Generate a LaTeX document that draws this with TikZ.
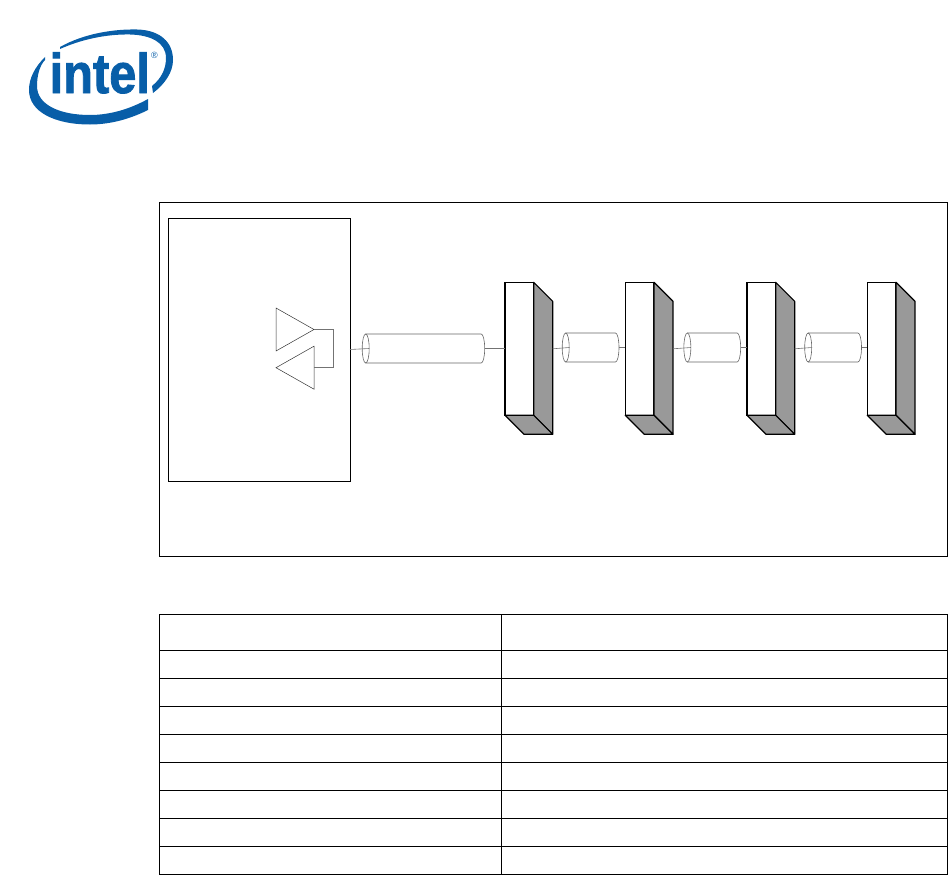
\documentclass[tikz,border=0pt]{standalone}
\usepackage{fontspec}
\setmainfont{Liberation Sans}
\newfontfamily\logofont[BoldFeatures={FakeBold=1.6}]{Liberation Sans}
\usepackage{xcolor}
\usepackage{tikz}
\usetikzlibrary{positioning, shapes.geometric, calc}
\definecolor{logoblue}{RGB}{8,94,168}
\definecolor{sidegray}{RGB}{153,153,153}

\begin{document}
\begin{tikzpicture}[
    x=1pt,
    y=-1pt,
    slab/.style={
        rectangle,
        draw,
        line width=1.2pt,
        fill=white,
        minimum width=28.7pt,
        minimum height=133pt,
        inner sep=0pt,
        outer sep=0pt
    },
    cable/.style={
        rectangle,
        minimum height=29pt,
        inner sep=0pt,
        outer sep=0pt
    },
    cableline/.style={
        draw=black!60,
        line width=0.6pt
    },
    amp/.style={
        isosceles triangle,
        isosceles triangle stretches,
        draw=black!80,
        line width=0.5pt,
        minimum width=43pt,
        minimum height=38pt,
        inner sep=0pt,
        outer sep=0pt,
        anchor=apex
    },
    wire/.style={
        draw=black!55,
        line width=0.6pt
    },
    frame/.style={
        rectangle,
        draw,
        line width=0.9pt,
        inner sep=0pt,
        outer sep=0pt
    }
]
\useasboundingbox (0,0) rectangle (948,875);

% Logo
\fill[logoblue] (60,47) .. controls (85,33) and (115,29) .. (137,29.5)
    .. controls (160,30) and (173,42) .. (173,60)
    .. controls (173,72) and (165,84) .. (153,93) -- (152,86)
    .. controls (162,78) and (166,68) .. (166,58)
    .. controls (166,42) and (150,35) .. (130,34.5)
    .. controls (105,34) and (80,40) .. (60,49) -- cycle;
\fill[logoblue] (45,57) .. controls (35,67) and (29,78) .. (29,90)
    .. controls (29,112) and (55,124.5) .. (90,124.5)
    .. controls (112,124.5) and (132,118) .. (148,110) -- (148,99)
    .. controls (130,109) and (110,115) .. (90,115)
    .. controls (60,115) and (37,105) .. (37,86)
    .. controls (37,75) and (40,65) .. (45,60) -- cycle;
\node[text=logoblue, inner sep=0pt, anchor=base west] (logotext) at (49.5,93)
    {\scalebox{0.87}[1]{\fontsize{56}{56}\logofont\bfseries intel}};
\node[text=logoblue, inner sep=0pt, font=\fontsize{9}{9}\selectfont] (logomark) at (154.5,55.5) {®};

% Outer frame and host box
\node[frame, minimum width=788pt, minimum height=354pt] (outer) at (553,379) {};
\node[frame, minimum width=182pt, minimum height=263pt] (host) at (259,349.5) {};

% Amplifiers
\node[amp] (txamp) at (314,329.5) {};
\node[amp, shape border rotate=180] (rxamp) at (276,367.7) {};
\draw[wire] (txamp.apex) -- ++(19,0) |- (rxamp.east);

% Slabs
\node[slab] (slabA) at (519.3,348.8) {};
\node[slab, right=91.6pt of slabA] (slabB) {};
\node[slab, right=93pt of slabB] (slabC) {};
\node[slab, right=91.6pt of slabC] (slabD) {};
\foreach \s in {slabA, slabB, slabC, slabD} {
    \filldraw[fill=sidegray, line width=1.2pt, line join=round]
        (\s.north east) -- ++(19,19) -- ++(0,133) -- ++(-19,-19) -- cycle;
    \filldraw[fill=sidegray, line width=1.2pt, line join=round]
        (\s.south west) -- ++(19,19) -- ++(28.7,0) -- ++(-19,-19) -- cycle;
}

% Cables
\node[cable, minimum width=115.5pt] (cableA) at (423.45,348.5) {};
\node[cable, minimum width=49.8pt] (cableB) at (590.6,347.5) {};
\node[cable, minimum width=49.8pt] (cableC) at (712.25,347.5) {};
\node[cable, minimum width=49.8pt] (cableD) at (833.1,347.5) {};
\foreach \c in {cableA, cableB, cableC, cableD} {
    \draw[cableline] (\c.north west) -- (\c.north east)
        arc[start angle=90, end angle=-90, x radius=3.5pt, y radius=14.5pt]
        -- (\c.south west);
    \draw[cableline] (\c.west) ellipse[x radius=3.5pt, y radius=14.5pt];
}

% Wires
\draw[wire] (host.east) -- ($(cableA.west)+(3.5,0)$);
\draw[wire] ($(cableA.east)+(3.5,0)$) -- (cableA.east -| slabA.west);
\foreach \a/\b/\c in {slabA/cableB/slabB, slabB/cableC/slabC, slabC/cableD/slabD} {
    \draw[wire] ($(\a.east)+(19,0)$) -- ($(\b.west)+(3.5,0)$);
    \draw[wire] ($(\b.east)+(3.5,0)$) -- (\b.east -| \c.west);
}

% Table
\draw[line width=0.9pt] (159.3,614.3) rectangle (947,874.3);
\draw[line width=0.9pt] (501.3,614.3) -- (501.3,874.3);
\foreach \y in {650.3, 678.3, 706.3, 734.3, 762.3, 790.3, 818.3, 846.3} {
    \draw[line width=0.9pt] (159.3,\y) -- (947,\y);
}
\end{tikzpicture}
\end{document}
